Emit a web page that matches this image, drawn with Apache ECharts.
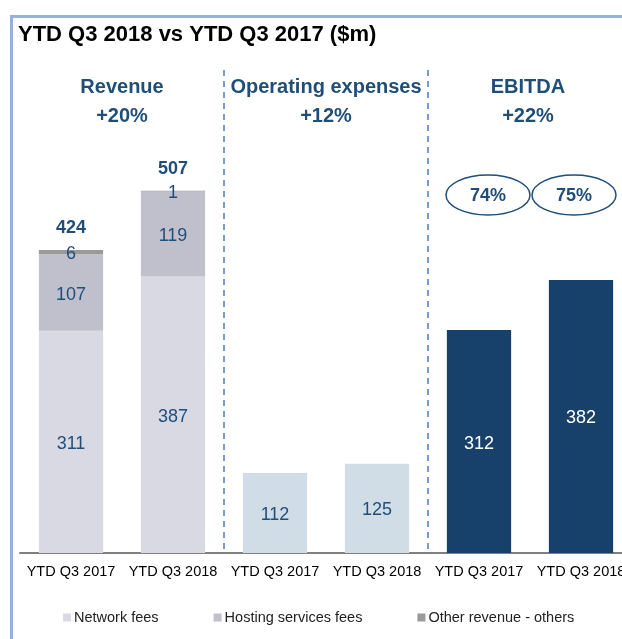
<!DOCTYPE html>
<html>
<head>
<meta charset="utf-8">
<script src="https://cdn.jsdelivr.net/npm/echarts@6/dist/echarts.min.js"></script>
<style>
  html, body { margin: 0; padding: 0; background: #fff; overflow: hidden; }
  /* the plot runs past the right edge, last label is clipped like the source */
  #chart-container { width: 632px; height: 639px; }
</style>
</head>
<body>
<div id="chart-container"></div>
<script>
// categories along the x axis
const categories = ['YTD Q3 2017', 'YTD Q3 2018', 'YTD Q3 2017', 'YTD Q3 2018', 'YTD Q3 2017', 'YTD Q3 2018'];

// revenue breakdown ($m)
const networkFees = [311, 387, '-', '-', '-', '-'];
const hostingFees = [107, 119, '-', '-', '-', '-'];
const otherRevenue = [6, 1, '-', '-', '-', '-'];
const revenueTotals = [424, 507, '-', '-', '-', '-'];

// opex and ebitda ($m)
const opex = ['-', '-', 112, 125, '-', '-'];
const ebitda = ['-', '-', '-', '-', 312, 382];
const ebitdaMargins = ['74%', '75%'];

// section headings
const sections = [
    {name: 'Revenue', growth: '+20%', x: 122},
    {name: 'Operating expenses', growth: '+12%', x: 326},
    {name: 'EBITDA', growth: '+22%', x: 528},
];

const navy = '#1f4e79';
const font = 'Arial, "Liberation Sans", sans-serif';

const chartDom = document.getElementById('chart-container');
const myChart = echarts.init(chartDom);

function insideLabel(color) {
    return {
        show: true,
        position: 'inside',
        offset: [0, 2],
        color: color,
        fontSize: 18,
        fontFamily: font,
        formatter: p => p.value,
    };
}

const graphics = [
    // frame lines
    {type: 'rect', shape: {x: 10, y: 15, width: 622, height: 3}, style: {fill: '#95b3d7'}, silent: true},
    {type: 'rect', shape: {x: 10, y: 15, width: 3, height: 624}, style: {fill: '#95b3d7'}, silent: true},
    {
        type: 'text', x: 18, y: 35,
        style: {text: 'YTD Q3 2018 vs YTD Q3 2017 ($m)', fill: '#000', font: 'bold 22px ' + font, verticalAlign: 'middle'}
    },
];

sections.forEach(s => {
    graphics.push({
        type: 'text', x: s.x, y: 87,
        style: {text: s.name, fill: navy, font: 'bold 20px ' + font, align: 'center', verticalAlign: 'middle'}
    });
    graphics.push({
        type: 'text', x: s.x, y: 116,
        style: {text: s.growth, fill: navy, font: 'bold 20px ' + font, align: 'center', verticalAlign: 'middle'}
    });
});

// margin ellipses over the ebitda bars
const ellipseX = [488, 574];
ebitdaMargins.forEach((m, i) => {
    graphics.push({
        type: 'ellipse', shape: {cx: ellipseX[i], cy: 195, rx: 42, ry: 20},
        style: {fill: '#fff', stroke: navy, lineWidth: 1.5}
    });
    graphics.push({
        type: 'text', x: ellipseX[i], y: 196,
        style: {text: m, fill: navy, font: 'bold 18px ' + font, align: 'center', verticalAlign: 'middle'}
    });
});

var option = {
    animation: false,
    textStyle: {fontFamily: font},
    grid: {left: 20, right: 0, top: 70, bottom: 86},
    legend: {
        data: ['Network fees', 'Hosting services fees', 'Other revenue - others'],
        left: 58,
        top: 605,
        icon: 'rect',
        itemWidth: 8,
        itemHeight: 8,
        itemGap: 55,
        textStyle: {fontSize: 14.5, color: '#222', fontFamily: font, padding: [0, 0, 0, -2]},
    },
    xAxis: {
        type: 'category',
        data: categories,
        axisLine: {lineStyle: {color: '#808080', width: 2}},
        axisTick: {show: false},
        axisLabel: {color: '#000', fontSize: 14.5, margin: 11, interval: 0, fontFamily: font},
        splitLine: {
            show: true,
            interval: function (index) {
                return index === 2 || index === 4;
            },
            lineStyle: {color: '#4a7ebb', width: 1.5, type: [6, 5]},
        },
    },
    yAxis: {
        type: 'value',
        min: 0,
        max: 676,
        show: false,
        splitLine: {show: false},
    },
    series: [
        {
            name: 'Network fees', type: 'bar', stack: 'a', barCategoryGap: '37%',
            data: networkFees, itemStyle: {color: '#d9d9e3'}, label: insideLabel(navy),
        },
        {
            name: 'Hosting services fees', type: 'bar', stack: 'a',
            data: hostingFees, itemStyle: {color: '#c0bfcc'}, label: insideLabel(navy),
        },
        {
            name: 'Other revenue - others', type: 'bar', stack: 'a',
            data: otherRevenue, itemStyle: {color: '#9a9a9a'}, label: insideLabel(navy),
        },
        {
            name: 'Operating expenses', type: 'bar', stack: 'a',
            data: opex, itemStyle: {color: '#d0dde7'}, label: insideLabel(navy),
        },
        {
            name: 'EBITDA', type: 'bar', stack: 'a',
            data: ebitda, itemStyle: {color: '#17406b'}, label: insideLabel('#fff'),
        },
        {
            name: 'Total', type: 'scatter', symbolSize: 0,
            data: revenueTotals,
            itemStyle: {opacity: 1},
            label: {
                show: true, position: 'top', distance: 13,
                color: navy, fontSize: 18, fontWeight: 'bold', fontFamily: font,
                formatter: p => p.value,
            },
        },
    ],
    graphic: graphics,
};

option && myChart.setOption(option, true);
</script>
</body>
</html>
